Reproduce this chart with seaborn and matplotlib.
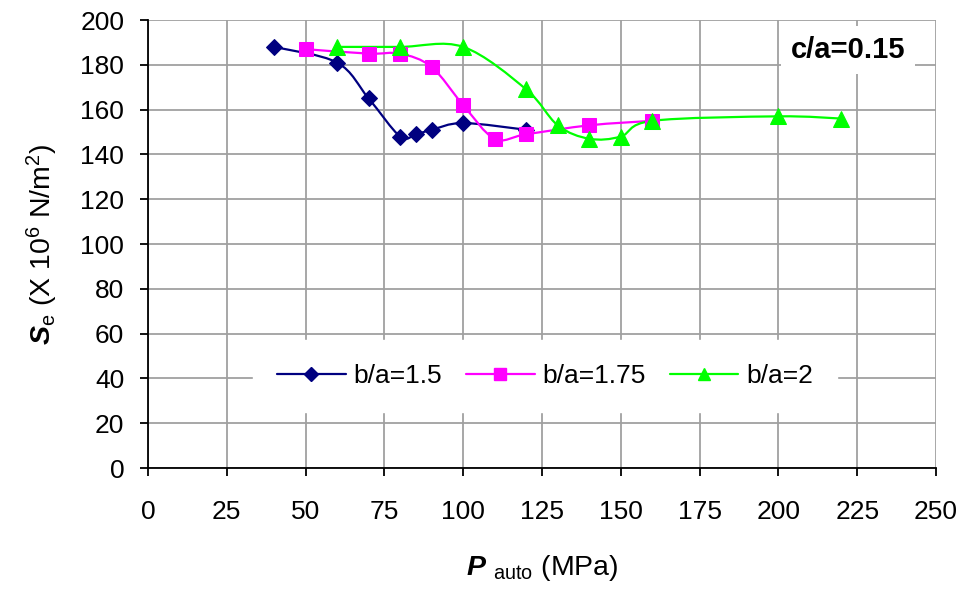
import matplotlib
matplotlib.use("Agg")
import matplotlib.pyplot as plt
import seaborn as sns
import pandas as pd
import numpy as np
from matplotlib.path import Path
from matplotlib.patches import PathPatch
from matplotlib.lines import Line2D

# Data
x_15 = [40, 60, 70, 80, 85, 90, 100, 120]
y_15 = [188, 181, 165, 148, 149, 151, 154, 151]
x_175 = [50, 70, 80, 90, 100, 110, 120, 140, 160]
y_175 = [187, 185, 185, 179, 162, 147, 149, 153, 155]
x_2 = [60, 80, 100, 120, 130, 140, 150, 160, 200, 220]
y_2 = [188, 188, 188, 169, 153, 147, 148, 155, 157, 156]
labels = ["b/a=1.5", "b/a=1.75", "b/a=2"]
x_ticks = [0, 25, 50, 75, 100, 125, 150, 175, 200, 225, 250]
y_ticks = [0, 20, 40, 60, 80, 100, 120, 140, 160, 180, 200]

df = pd.concat([
    pd.DataFrame({"P": x_15, "S": y_15, "series": labels[0]}),
    pd.DataFrame({"P": x_175, "S": y_175, "series": labels[1]}),
    pd.DataFrame({"P": x_2, "S": y_2, "series": labels[2]}),
])

sns.set_theme(style="white")
plt.rcParams['font.family'] = ['Liberation Sans', 'DejaVu Sans']
plt.rcParams['mathtext.fontset'] = 'custom'
plt.rcParams['mathtext.rm'] = 'Liberation Sans'
plt.rcParams['mathtext.it'] = 'Liberation Sans:italic'
plt.rcParams['mathtext.bf'] = 'Liberation Sans:bold:italic'
plt.rcParams['text.color'] = 'black'
plt.rcParams['axes.labelcolor'] = 'black'
plt.rcParams['xtick.color'] = 'black'
plt.rcParams['ytick.color'] = 'black'

fig = plt.figure(figsize=(9.67, 5.89), dpi=100)
ax = fig.add_axes([0.153, 0.2054, 0.815, 0.7606])

palette = {labels[0]: "#000080", labels[1]: "#FF00FF", labels[2]: "#00FF00"}
markers = {labels[0]: "D", labels[1]: "s", labels[2]: "^"}
sizes = {labels[0]: 8, labels[1]: 9.5, labels[2]: 11}


def smooth_path(xs, ys):
    pts = np.column_stack([xs, ys]).astype(float)
    n = len(pts)
    verts = [pts[0]]
    codes = [Path.MOVETO]
    for i in range(n - 1):
        p0 = pts[i - 1] if i > 0 else pts[i]
        p1 = pts[i]
        p2 = pts[i + 1]
        p3 = pts[i + 2] if i + 2 < n else pts[i + 1]
        c1 = p1 + (p2 - p0) / 6.0
        c2 = p2 - (p3 - p1) / 6.0
        verts += [c1, c2, p2]
        codes += [Path.CURVE4] * 3
    return Path(verts, codes)


handles = []
for lab in labels:
    sub = df[df["series"] == lab]
    sns.lineplot(data=sub, x="P", y="S", ax=ax, color=palette[lab], marker=markers[lab],
                 markersize=sizes[lab], markeredgecolor=palette[lab], linestyle="",
                 sort=False, zorder=4, legend=False)
    patch = PathPatch(smooth_path(sub["P"].values, sub["S"].values), facecolor="none",
                      edgecolor=palette[lab], linewidth=1.6, zorder=3)
    ax.add_patch(patch)
    handles.append(Line2D([], [], color=palette[lab], marker=markers[lab],
                          markersize=sizes[lab] * 0.85, markeredgecolor=palette[lab],
                          linewidth=1.6, label=lab))

ax.set_xlim(0, 250)
ax.set_ylim(0, 200)
ax.set_xticks(x_ticks)
ax.set_yticks(y_ticks)
ax.grid(True, color="#a0a0a0", linewidth=1.3)
ax.set_axisbelow(True)
for s in ["top", "right"]:
    ax.spines[s].set_visible(False)
for s in ["left", "bottom"]:
    ax.spines[s].set_color("black")
    ax.spines[s].set_linewidth(1.3)
ax.tick_params(axis="both", which="both", direction="out", length=6, width=1.3,
               color="black", labelsize=19, bottom=True, left=True)
ax.tick_params(axis="x", pad=17)
ax.tick_params(axis="y", pad=11)

ax.set_xlabel(r"$\mathbf{P}\ _{\mathrm{auto}}$ (MPa)", fontsize=20.5, labelpad=19)
ax.set_ylabel(r"$\mathbf{S}_{\mathrm{e}}$ (X 10$^{\mathrm{6}}$ N/m$^{\mathrm{2}}$)",
              fontsize=20.5, labelpad=15)
ax.xaxis.set_label_coords(0.5 - 0.0, -0.19)
ax.xaxis.label.set_x(0.5)

leg = ax.legend(handles=handles, loc="center", bbox_to_anchor=(0.504, 0.205), ncol=3,
                frameon=True, fontsize=19, handlelength=2.6, columnspacing=0.9,
                handletextpad=0.3, borderpad=0.9, fancybox=False)
leg.get_frame().set_edgecolor("white")
leg.get_frame().set_facecolor("white")
leg.get_frame().set_alpha(1)
leg.set_zorder(6)

ax.text(0.888, 0.933, "c/a=0.15", transform=ax.transAxes, ha="center", va="center",
        fontsize=21, fontweight="bold",
        bbox=dict(facecolor="white", edgecolor="none", pad=7), zorder=5)

fig.savefig("out.png", dpi=100)
